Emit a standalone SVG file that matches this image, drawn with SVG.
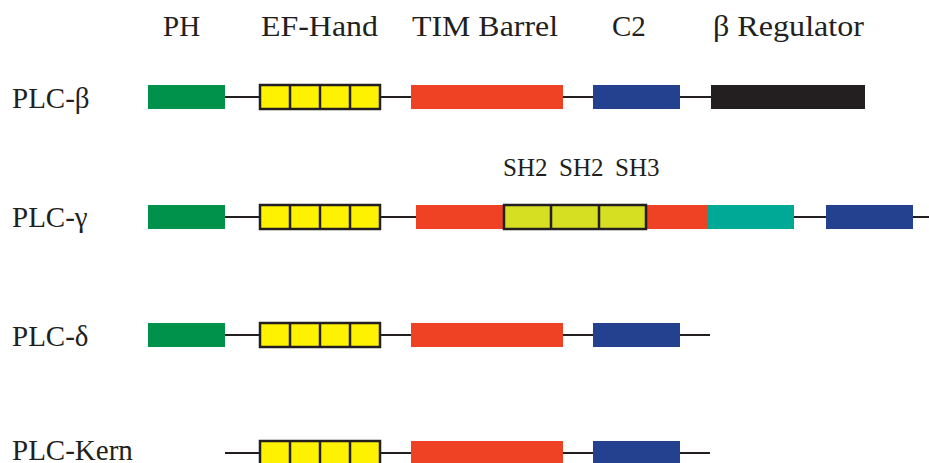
<svg xmlns="http://www.w3.org/2000/svg" width="929" height="463" viewBox="0 0 929 463">
<style>
text{font-family:"Liberation Serif","Times New Roman",serif;fill:#231F20}
.h{font-size:29px}
.r{font-size:29px}
.s{font-size:25px}
.ln{stroke:#231F20;stroke-width:2;fill:none}
.ph{fill:#00914A}
.tim{fill:#EF4123}
.c2{fill:#24418F}
.reg{fill:#231F20}
.tea{fill:#00A995}
.ef{fill:#FFF200;stroke:#231F20;stroke-width:2.5}
.sh{fill:#D7DF23;stroke:#231F20;stroke-width:2.5}
.dv{stroke:#231F20;stroke-width:2.5}
</style>
<defs>
<g id="efbox">
<rect class="ef" x="0" y="0" width="120" height="24"/>
<line class="dv" x1="30" y1="0" x2="30" y2="24"/>
<line class="dv" x1="60" y1="0" x2="60" y2="24"/>
<line class="dv" x1="90" y1="0" x2="90" y2="24"/>
</g>
</defs>
<g id="headers">
<text class="h" x="163" y="36">PH</text>
<text class="h" x="261" y="36" textLength="117" lengthAdjust="spacingAndGlyphs">EF-Hand</text>
<text class="h" x="412" y="36" textLength="146" lengthAdjust="spacingAndGlyphs">TIM Barrel</text>
<text class="h" x="612" y="36">C2</text>
<text class="h" x="713" y="36" textLength="151" lengthAdjust="spacingAndGlyphs">β Regulator</text>
</g>
<g id="connectors">
<line class="ln" x1="225" y1="97" x2="711" y2="97"/>
<line class="ln" x1="225" y1="217" x2="929" y2="217"/>
<line class="ln" x1="225" y1="335" x2="710" y2="335"/>
<line class="ln" x1="225" y1="453" x2="710" y2="453"/>
</g>
<g id="plc-beta">
<text class="r" x="12" y="108">PLC-β</text>
<rect class="ph" x="148" y="85" width="77" height="24"/>
<use href="#efbox" x="260" y="85"/>
<rect class="tim" x="411" y="85" width="152" height="24"/>
<rect class="c2" x="593" y="85" width="87" height="24"/>
<rect class="reg" x="711" y="85" width="154" height="24"/>
</g>
<g id="plc-gamma">
<text class="r" x="12" y="227">PLC-γ</text>
<rect class="ph" x="148" y="205" width="77" height="24"/>
<use href="#efbox" x="260" y="205"/>
<rect class="tim" x="416" y="205" width="292" height="24"/>
<rect class="sh" x="504" y="205" width="142" height="24"/>
<line class="dv" x1="551" y1="205" x2="551" y2="229"/>
<line class="dv" x1="599" y1="205" x2="599" y2="229"/>
<text class="s" x="503" y="176">SH2</text>
<text class="s" x="559" y="176">SH2</text>
<text class="s" x="615" y="176">SH3</text>
<rect class="tea" x="708" y="205" width="86" height="24"/>
<rect class="c2" x="826" y="205" width="87" height="24"/>
</g>
<g id="plc-delta">
<text class="r" x="12" y="346">PLC-δ</text>
<rect class="ph" x="148" y="323" width="77" height="24"/>
<use href="#efbox" x="260" y="323"/>
<rect class="tim" x="411" y="323" width="152" height="24"/>
<rect class="c2" x="593" y="323" width="87" height="24"/>
</g>
<g id="plc-kern">
<text class="r" x="12" y="460">PLC-Kern</text>
<use href="#efbox" x="260" y="441"/>
<rect class="tim" x="411" y="441" width="152" height="24"/>
<rect class="c2" x="593" y="441" width="87" height="24"/>
</g>
</svg>
